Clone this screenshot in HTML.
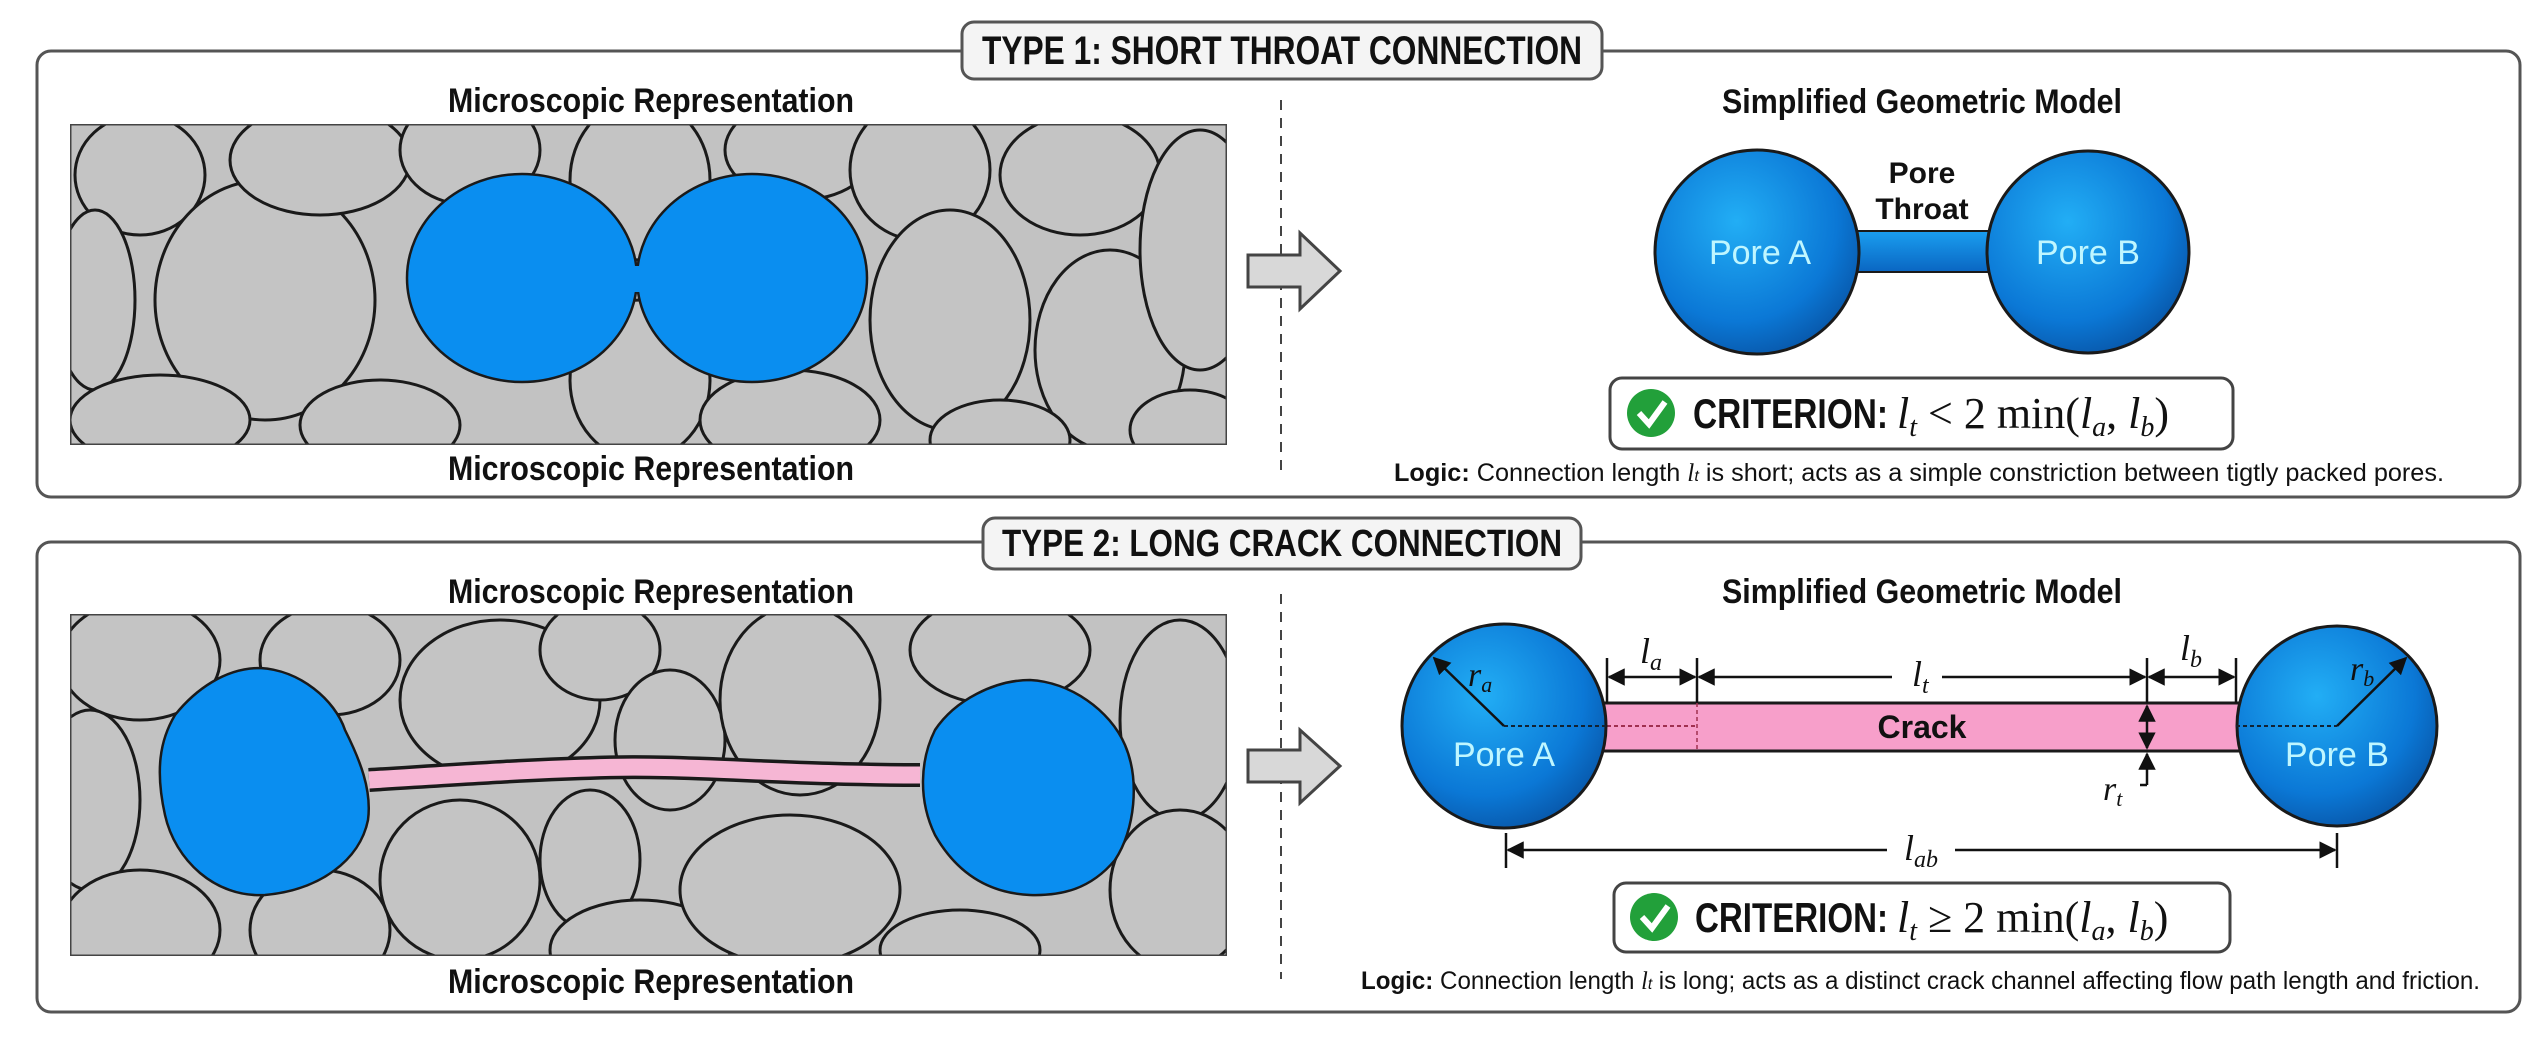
<!DOCTYPE html>
<html><head><meta charset="utf-8"><style>
html,body{margin:0;padding:0;background:#fff;}
svg{display:block;}
.t{font-family:"Liberation Sans Narrow","Liberation Sans",sans-serif;font-weight:bold;fill:#111;}
.m{font-family:"Liberation Serif",serif;font-style:italic;fill:#111;}
.r{font-family:"Liberation Serif",serif;fill:#111;}
</style></head><body>
<svg width="2543" height="1055" viewBox="0 0 2543 1055" xmlns="http://www.w3.org/2000/svg">
<defs>
<radialGradient id="bg" cx="0.4" cy="0.35" r="0.7">
<stop offset="0" stop-color="#22aef5"/><stop offset="0.7" stop-color="#0b78d6"/><stop offset="1" stop-color="#0856a8"/>
</radialGradient>
<linearGradient id="tg" x1="0" y1="0" x2="0" y2="1"><stop offset="0" stop-color="#1a9ef0"/><stop offset="1" stop-color="#0a66c2"/></linearGradient>
<clipPath id="c1"><rect x="70" y="124" width="1157" height="321"/></clipPath>
<clipPath id="c2"><rect x="70" y="614" width="1157" height="342"/></clipPath>
<marker id="ah" viewBox="0 0 10 10" refX="9" refY="5" markerWidth="7" markerHeight="7" orient="auto-start-reverse"><path d="M0,0 L10,5 L0,10 z" fill="#111"/></marker>
</defs>

<!-- Panel 1 -->
<rect x="37" y="51" width="2483" height="446" rx="14" fill="#fff" stroke="#555" stroke-width="3"/>
<rect x="962" y="22" width="640" height="57" rx="12" fill="#f4f4f4" stroke="#555" stroke-width="3"/>
<text class="t" x="1282" y="64" font-size="40" text-anchor="middle" textLength="600" lengthAdjust="spacingAndGlyphs">TYPE 1: SHORT THROAT CONNECTION</text>

<text class="t" x="651" y="112" font-size="34" text-anchor="middle" textLength="406" lengthAdjust="spacingAndGlyphs">Microscopic Representation</text>
<text class="t" x="651" y="480" font-size="34" text-anchor="middle" textLength="406" lengthAdjust="spacingAndGlyphs">Microscopic Representation</text>

<g clip-path="url(#c1)">
<rect x="70" y="124" width="1157" height="321" fill="#c2c2c2"/>
<g fill="#c4c4c4" stroke="#1a1a1a" stroke-width="3">
<ellipse cx="140" cy="175" rx="65" ry="60"/>
<ellipse cx="95" cy="300" rx="40" ry="90"/>
<ellipse cx="265" cy="300" rx="110" ry="120"/>
<ellipse cx="320" cy="160" rx="90" ry="55"/>
<ellipse cx="160" cy="420" rx="90" ry="45"/>
<ellipse cx="380" cy="425" rx="80" ry="45"/>
<ellipse cx="470" cy="150" rx="70" ry="55"/>
<ellipse cx="640" cy="180" rx="70" ry="80"/>
<ellipse cx="640" cy="380" rx="70" ry="80"/>
<ellipse cx="800" cy="150" rx="75" ry="50"/>
<ellipse cx="790" cy="420" rx="90" ry="50"/>
<ellipse cx="920" cy="170" rx="70" ry="70"/>
<ellipse cx="950" cy="320" rx="80" ry="110"/>
<ellipse cx="1080" cy="175" rx="80" ry="60"/>
<ellipse cx="1110" cy="350" rx="75" ry="100"/>
<ellipse cx="1200" cy="250" rx="60" ry="120"/>
<ellipse cx="1000" cy="440" rx="70" ry="40"/>
<ellipse cx="1190" cy="430" rx="60" ry="40"/>
</g>
<g fill="#0a8ef0" stroke="#1a1a1a" stroke-width="2.5">
<ellipse cx="522" cy="278" rx="115" ry="104"/>
<ellipse cx="752" cy="278" rx="115" ry="104"/>
</g>
<rect x="600" y="266" width="80" height="26" fill="#0a8ef0"/>
<rect x="70" y="124" width="1157" height="321" fill="none" stroke="#444" stroke-width="3"/>
</g>

<line x1="1281" y1="100" x2="1281" y2="470" stroke="#444" stroke-width="2" stroke-dasharray="10,8"/>
<path d="M1248,255 L1300,255 L1300,233 L1340,271 L1300,309 L1300,287 L1248,287 Z" fill="#d8d8d8" stroke="#444" stroke-width="3"/>

<text class="t" x="1922" y="113" font-size="34" text-anchor="middle" textLength="400" lengthAdjust="spacingAndGlyphs">Simplified Geometric Model</text>
<text class="t" x="1922" y="183" font-size="30" text-anchor="middle">Pore</text>
<text class="t" x="1922" y="219" font-size="30" text-anchor="middle">Throat</text>
<rect x="1850" y="231" width="145" height="41" fill="url(#tg)" stroke="#1a1a1a" stroke-width="2"/>
<circle cx="1757" cy="252" r="102" fill="url(#bg)" stroke="#1a1a1a" stroke-width="3"/>
<circle cx="2088" cy="252" r="101" fill="url(#bg)" stroke="#1a1a1a" stroke-width="3"/>
<text x="1760" y="264" font-family="Liberation Sans Narrow,Liberation Sans,sans-serif" font-size="34" fill="#bff6ff" text-anchor="middle">Pore A</text>
<text x="2088" y="264" font-family="Liberation Sans Narrow,Liberation Sans,sans-serif" font-size="34" fill="#bff6ff" text-anchor="middle">Pore B</text>

<rect x="1610" y="378" width="623" height="71" rx="12" fill="#fff" stroke="#444" stroke-width="3"/>
<circle cx="1651" cy="413" r="24" fill="#22a03a"/>
<path d="M1639,413 L1649,424 L1665,402" fill="none" stroke="#fff" stroke-width="6"/>
<text class="t" x="1693" y="428" font-size="42" textLength="195" lengthAdjust="spacingAndGlyphs">CRITERION:</text>
<text x="1897" y="428" font-size="44"><tspan class="m">l</tspan><tspan class="m" font-size="28" dy="8">t</tspan><tspan class="r" dy="-8"> &lt; 2 min(</tspan><tspan class="m">l</tspan><tspan class="m" font-size="28" dy="8">a</tspan><tspan class="r" dy="-8">, </tspan><tspan class="m">l</tspan><tspan class="m" font-size="28" dy="8">b</tspan><tspan class="r" dy="-8">)</tspan></text>
<text x="1394" y="481" font-family="Liberation Sans Narrow,Liberation Sans,sans-serif" font-size="25" fill="#111" textLength="1050" lengthAdjust="spacingAndGlyphs"><tspan font-weight="bold">Logic:</tspan> Connection length <tspan font-style="italic" font-family="Liberation Serif,serif">l</tspan><tspan font-size="16" font-style="italic">t</tspan> is short; acts as a simple constriction between tigtly packed pores.</text>

<!-- Panel 2 -->
<rect x="37" y="542" width="2483" height="470" rx="14" fill="#fff" stroke="#555" stroke-width="3"/>
<rect x="983" y="518" width="598" height="51" rx="12" fill="#f4f4f4" stroke="#555" stroke-width="3"/>
<text class="t" x="1282" y="556" font-size="38" text-anchor="middle" textLength="560" lengthAdjust="spacingAndGlyphs">TYPE 2: LONG CRACK CONNECTION</text>

<text class="t" x="651" y="603" font-size="34" text-anchor="middle" textLength="406" lengthAdjust="spacingAndGlyphs">Microscopic Representation</text>
<text class="t" x="651" y="993" font-size="34" text-anchor="middle" textLength="406" lengthAdjust="spacingAndGlyphs">Microscopic Representation</text>

<g clip-path="url(#c2)">
<rect x="70" y="614" width="1157" height="342" fill="#c2c2c2"/>
<g fill="#c4c4c4" stroke="#1a1a1a" stroke-width="3">
<ellipse cx="140" cy="660" rx="80" ry="60"/>
<ellipse cx="90" cy="800" rx="50" ry="90"/>
<ellipse cx="140" cy="930" rx="80" ry="60"/>
<ellipse cx="330" cy="660" rx="70" ry="55"/>
<ellipse cx="320" cy="930" rx="70" ry="60"/>
<ellipse cx="500" cy="700" rx="100" ry="80"/>
<ellipse cx="460" cy="880" rx="80" ry="80"/>
<ellipse cx="600" cy="650" rx="60" ry="50"/>
<ellipse cx="670" cy="740" rx="55" ry="70"/>
<ellipse cx="590" cy="860" rx="50" ry="70"/>
<ellipse cx="640" cy="950" rx="90" ry="50"/>
<ellipse cx="800" cy="700" rx="80" ry="95"/>
<ellipse cx="790" cy="890" rx="110" ry="75"/>
<ellipse cx="1000" cy="650" rx="90" ry="55"/>
<ellipse cx="1180" cy="720" rx="60" ry="100"/>
<ellipse cx="1180" cy="890" rx="70" ry="80"/>
<ellipse cx="960" cy="950" rx="80" ry="40"/>
</g>
<path d="M369,780 C450,775 520,770 590,768 C680,764 780,775 920,775" fill="none" stroke="#1a1a1a" stroke-width="24"/>
<path d="M369,780 C450,775 520,770 590,768 C680,764 780,775 920,775" fill="none" stroke="#f6b6d4" stroke-width="17"/>
<g fill="#0a8ef0" stroke="#1a1a1a" stroke-width="2.5">
<path d="M260,668 C300,670 335,700 345,730 C360,760 372,790 368,820 C360,860 320,890 265,895 C215,898 175,860 165,815 C155,770 160,740 175,715 C195,690 225,668 260,668 Z"/>
<path d="M1030,680 C1070,682 1110,710 1125,745 C1140,780 1135,830 1115,860 C1090,890 1060,896 1030,895 C985,893 955,870 935,835 C918,800 920,760 935,730 C955,700 995,680 1030,680 Z"/>
</g>
<rect x="70" y="614" width="1157" height="342" fill="none" stroke="#444" stroke-width="3"/>
</g>

<line x1="1281" y1="594" x2="1281" y2="979" stroke="#444" stroke-width="2" stroke-dasharray="10,8"/>
<path d="M1248,750 L1300,750 L1300,730 L1340,766 L1300,803 L1300,782 L1248,782 Z" fill="#d8d8d8" stroke="#444" stroke-width="3"/>

<text class="t" x="1922" y="603" font-size="34" text-anchor="middle" textLength="400" lengthAdjust="spacingAndGlyphs">Simplified Geometric Model</text>

<rect x="1580" y="703" width="680" height="48" fill="#f79fca" stroke="#1a1a1a" stroke-width="3"/>
<text class="t" x="1922" y="738" font-size="32" text-anchor="middle">Crack</text>
<line x1="1600" y1="726" x2="1697" y2="726" stroke="#a03050" stroke-width="2" stroke-dasharray="4,3"/>
<line x1="1697" y1="703" x2="1697" y2="751" stroke="#a03050" stroke-width="1.5" stroke-dasharray="4,3"/>
<circle cx="1504" cy="726" r="102" fill="url(#bg)" stroke="#1a1a1a" stroke-width="3"/>
<circle cx="2337" cy="726" r="100" fill="url(#bg)" stroke="#1a1a1a" stroke-width="3"/>
<line x1="1504" y1="726" x2="1606" y2="726" stroke="#123" stroke-width="2" stroke-dasharray="4,3"/>
<line x1="2236" y1="726" x2="2337" y2="726" stroke="#123" stroke-width="2" stroke-dasharray="4,3"/>
<line x1="1504" y1="726" x2="1434" y2="658" stroke="#111" stroke-width="2.5" marker-end="url(#ah)"/>
<line x1="2337" y1="726" x2="2406" y2="658" stroke="#111" stroke-width="2.5" marker-end="url(#ah)"/>
<text class="m" x="1468" y="686" font-size="34">r<tspan font-size="22" dy="6">a</tspan></text>
<text class="m" x="2350" y="680" font-size="34">r<tspan font-size="22" dy="6">b</tspan></text>
<text x="1504" y="766" font-family="Liberation Sans Narrow,Liberation Sans,sans-serif" font-size="34" fill="#bff6ff" text-anchor="middle">Pore A</text>
<text x="2337" y="766" font-family="Liberation Sans Narrow,Liberation Sans,sans-serif" font-size="34" fill="#bff6ff" text-anchor="middle">Pore B</text>

<g stroke="#111" stroke-width="2.5">
<line x1="1607" y1="658" x2="1607" y2="703"/>
<line x1="1697" y1="658" x2="1697" y2="703"/>
<line x1="2147" y1="658" x2="2147" y2="703"/>
<line x1="2236" y1="658" x2="2236" y2="703"/>
<line x1="1609" y1="677" x2="1695" y2="677" marker-start="url(#ah)" marker-end="url(#ah)"/>
<line x1="1699" y1="677" x2="1892" y2="677" marker-start="url(#ah)"/>
<line x1="1942" y1="677" x2="2145" y2="677" marker-end="url(#ah)"/>
<line x1="2149" y1="677" x2="2234" y2="677" marker-start="url(#ah)" marker-end="url(#ah)"/>
<line x1="2147" y1="706" x2="2147" y2="748" marker-start="url(#ah)" marker-end="url(#ah)"/>
<line x1="2147" y1="785" x2="2147" y2="754" marker-end="url(#ah)"/>
<line x1="2147" y1="785" x2="2140" y2="785"/>
<line x1="1506" y1="833" x2="1506" y2="868"/>
<line x1="2337" y1="833" x2="2337" y2="868"/>
<line x1="1508" y1="850" x2="1887" y2="850" marker-start="url(#ah)"/>
<line x1="1955" y1="850" x2="2335" y2="850" marker-end="url(#ah)"/>
</g>
<text class="m" x="1640" y="663" font-size="36">l<tspan font-size="24" dy="7">a</tspan></text>
<text class="m" x="1912" y="686" font-size="36">l<tspan font-size="24" dy="7">t</tspan></text>
<text class="m" x="2180" y="660" font-size="36">l<tspan font-size="24" dy="7">b</tspan></text>
<text class="m" x="2103" y="800" font-size="34">r<tspan font-size="22" dy="6">t</tspan></text>
<text class="m" x="1904" y="860" font-size="36">l<tspan font-size="24" dy="7">ab</tspan></text>

<rect x="1614" y="883" width="616" height="69" rx="12" fill="#fff" stroke="#444" stroke-width="3"/>
<circle cx="1654" cy="917" r="24" fill="#22a03a"/>
<path d="M1642,917 L1652,928 L1668,906" fill="none" stroke="#fff" stroke-width="6"/>
<text class="t" x="1695" y="932" font-size="42" textLength="193" lengthAdjust="spacingAndGlyphs">CRITERION:</text>
<text x="1897" y="932" font-size="44"><tspan class="m">l</tspan><tspan class="m" font-size="28" dy="8">t</tspan><tspan class="r" dy="-8"> ≥ 2 min(</tspan><tspan class="m">l</tspan><tspan class="m" font-size="28" dy="8">a</tspan><tspan class="r" dy="-8">, </tspan><tspan class="m">l</tspan><tspan class="m" font-size="28" dy="8">b</tspan><tspan class="r" dy="-8">)</tspan></text>
<text x="1361" y="989" font-family="Liberation Sans Narrow,Liberation Sans,sans-serif" font-size="25" fill="#111" textLength="1119" lengthAdjust="spacingAndGlyphs"><tspan font-weight="bold">Logic:</tspan> Connection length <tspan font-style="italic" font-family="Liberation Serif,serif">l</tspan><tspan font-size="16" font-style="italic">t</tspan> is long; acts as a distinct crack channel affecting flow path length and friction.</text>
</svg>
</body></html>
